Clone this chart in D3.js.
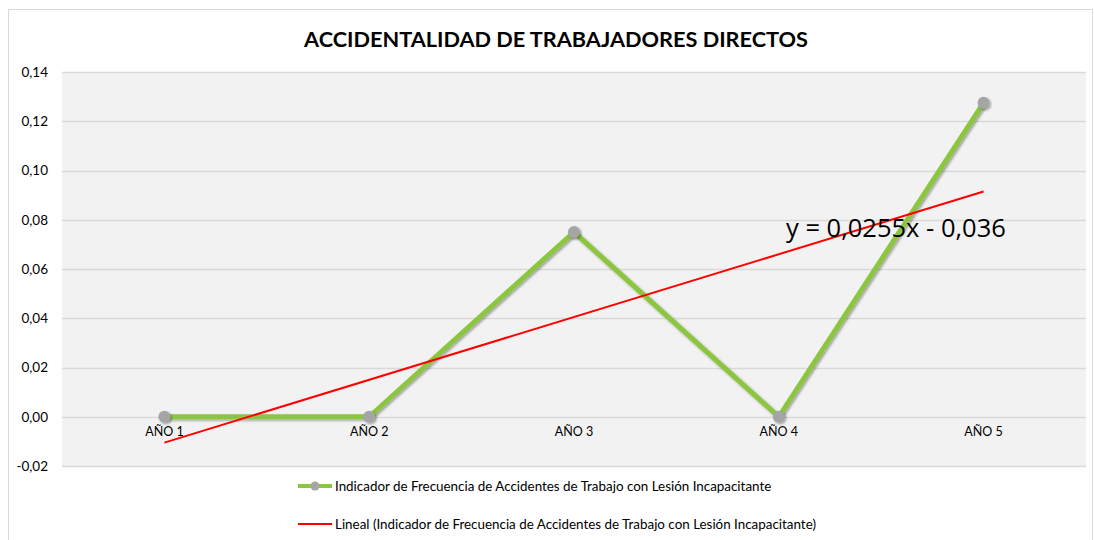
<!DOCTYPE html>
<html>
<head>
<meta charset="utf-8">
<script src="https://cdn.jsdelivr.net/npm/d3@7"></script>
<style>
  html, body { margin: 0; padding: 0; background: #fff; }
  svg { display: block; font-family: Lato, "Open Sans", sans-serif; }
</style>
</head>
<body>
<svg id="chart" width="1094" height="540"></svg>
<script>
// Chart data
const categories = ["AÑO 1", "AÑO 2", "AÑO 3", "AÑO 4", "AÑO 5"];
const seriesValues = [0, 0, 0.075, 0, 0.1275];
const yTicks = [-0.02, 0, 0.02, 0.04, 0.06, 0.08, 0.10, 0.12, 0.14];
const title = "ACCIDENTALIDAD DE TRABAJADORES DIRECTOS";
const seriesName = "Indicador de Frecuencia de Accidentes de Trabajo con Lesión Incapacitante";

const svg = d3.select("#chart");
const W = 1094, H = 540;
const plot = { left: 62, right: 1086, top: 72, bottom: 466 };

const fmt = v => d3.format(".2f")(v).replace(".", ",").replace("−", "-");

// Outer chart frame
svg.append("rect").attr("x", 8.5).attr("y", 9.5).attr("width", W - 10).attr("height", H)
  .attr("fill", "#fff").attr("stroke", "#d9d9d9").attr("stroke-width", 1);

// Scales
const x = d3.scaleBand().domain(categories).range([plot.left, plot.right]);
const y = d3.scaleLinear().domain([-0.02, 0.14]).range([plot.bottom, plot.top]);

// Plot background
svg.append("rect").attr("x", plot.left).attr("y", plot.top)
  .attr("width", plot.right - plot.left).attr("height", plot.bottom - plot.top)
  .attr("fill", "#f2f2f2");

// Gridlines
svg.append("g").selectAll("line").data(yTicks).join("line")
  .attr("x1", plot.left).attr("x2", plot.right)
  .attr("y1", d => Math.round(y(d)) + 0.5).attr("y2", d => Math.round(y(d)) + 0.5)
  .attr("stroke", "#d9d9d9").attr("stroke-width", 1.5);

// Y axis labels
const yAxis = d3.axisLeft(y).tickValues(yTicks).tickFormat(fmt).tickSize(0).tickPadding(14);
const yg = svg.append("g").attr("transform", `translate(${plot.left},0)`).call(yAxis);
yg.select(".domain").remove();
yg.selectAll("text").attr("font-size", 13.5).attr("fill", "#000")
  .attr("font-family", "Lato, sans-serif");

// Category labels along the zero line
const xAxis = d3.axisBottom(x).tickSize(0).tickPadding(10);
const xg = svg.append("g").attr("transform", `translate(0,${y(0)})`).call(xAxis);
xg.select(".domain").remove();
xg.selectAll("text").attr("font-size", 12.5).attr("fill", "#000")
  .attr("font-family", "Lato, sans-serif");

// Title
svg.append("text").attr("x", 556).attr("y", 47).attr("text-anchor", "middle")
  .attr("font-size", 21.7).attr("font-weight", 700).attr("fill", "#000")
  .text(title);

// Shadow filter for the series line and markers
const defs = svg.append("defs");
const f = defs.append("filter").attr("id", "shadow").attr("x", "-20%").attr("y", "-20%")
  .attr("width", "140%").attr("height", "140%");
f.append("feDropShadow").attr("dx", 1.5).attr("dy", 1.5).attr("stdDeviation", 1.2)
  .attr("flood-color", "#000").attr("flood-opacity", 0.35);

const cx = d => x(d) + x.bandwidth() / 2;
const pts = categories.map((c, i) => [cx(c), y(seriesValues[i])]);

// Series line
svg.append("path").datum(pts)
  .attr("d", d3.line())
  .attr("fill", "none").attr("stroke", "#8cc63f").attr("stroke-width", 5)
  .attr("stroke-linejoin", "round").attr("filter", "url(#shadow)");

// Linear trend (least squares on x = 1..n)
const n = seriesValues.length;
const xs = d3.range(1, n + 1);
const mx = d3.mean(xs), my = d3.mean(seriesValues);
const slope = d3.sum(xs, (xi, i) => (xi - mx) * (seriesValues[i] - my)) / d3.sum(xs, xi => (xi - mx) ** 2);
const intercept = my - slope * mx;
const trendPts = [[cx(categories[0]), y(slope * 1 + intercept)], [cx(categories[n - 1]), y(slope * n + intercept)]];
svg.append("path").datum(trendPts).attr("d", d3.line())
  .attr("stroke", "#ff0000").attr("stroke-width", 2).attr("fill", "none");

// Markers
svg.append("g").selectAll("circle").data(pts).join("circle")
  .attr("cx", d => d[0]).attr("cy", d => d[1]).attr("r", 6)
  .attr("fill", "#a5a5a5").attr("filter", "url(#shadow)");

// Trend equation
const eq = `y = ${d3.format(".4f")(slope).replace(".", ",")}x ${intercept < 0 ? "-" : "+"} ${d3.format(".3f")(Math.abs(intercept)).replace(".", ",")}`;
svg.append("text").attr("x", 786).attr("y", 237).attr("font-size", 25.5)
  .attr("font-family", "'Open Sans', sans-serif").attr("fill", "#000").text(eq);

// Legend
const lg = svg.append("g");
lg.append("line").attr("x1", 298).attr("x2", 332).attr("y1", 486).attr("y2", 486)
  .attr("stroke", "#8cc63f").attr("stroke-width", 4);
lg.append("circle").attr("cx", 315).attr("cy", 486).attr("r", 4.5).attr("fill", "#a5a5a5");
lg.append("text").attr("x", 335).attr("y", 491).attr("font-size", 13.4).attr("fill", "#000")
  .text(seriesName);
lg.append("line").attr("x1", 298).attr("x2", 332).attr("y1", 524).attr("y2", 524)
  .attr("stroke", "#ff0000").attr("stroke-width", 2);
lg.append("text").attr("x", 335).attr("y", 529).attr("font-size", 13.4).attr("fill", "#000")
  .text(`Lineal (${seriesName})`);
</script>
</body>
</html>
